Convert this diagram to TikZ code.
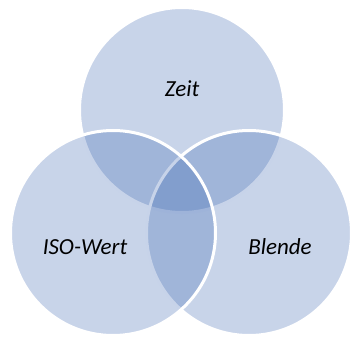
\documentclass[tikz,border=0pt]{standalone}
\usepackage{fontspec}
\setmainfont{Carlito}
\usepackage{tikz}
\definecolor{vennblue}{RGB}{51,96,174}

\begin{document}
\begin{tikzpicture}[x=1pt,y=-1pt,
 venn/.style={circle,draw=white,line width=3pt,fill=vennblue,fill opacity=0.27,minimum size=205pt,inner sep=0pt},
 setname/.style={font=\fontsize{23}{28}\selectfont\itshape,text=black}]
\useasboundingbox (0,0) rectangle (351,337);
% top circle first, then right, then left on top
\node[venn] (zeit) at (182,110) {};
\node[venn] (blende) at (249,233) {};
\node[venn] (iso) at (113,233) {};
\node[setname] (zeitlabel) at (182,89) {Zeit};
\node[setname] (isolabel) at (85,247) {ISO-Wert};
\node[setname] (blendelabel) at (280,247) {Blende};
\end{tikzpicture}
\end{document}
